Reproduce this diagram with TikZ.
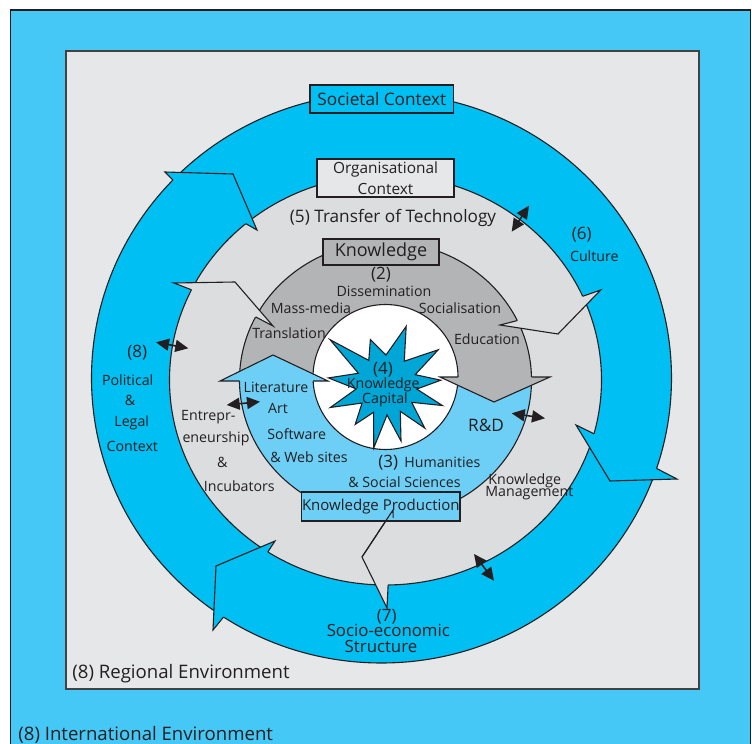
\documentclass[tikz,border=0pt]{standalone}
\usepackage{fontspec}
\setmainfont{Open Sans}
\usetikzlibrary{arrows.meta,calc}
\definecolor{intblue}{HTML}{45C8F5}
\definecolor{ringblue}{HTML}{00BFF3}
\definecolor{regrey}{HTML}{E6E7E8}
\definecolor{orggrey}{HTML}{DCDDDF}
\definecolor{midgrey}{HTML}{B3B4B6}
\definecolor{lblue}{HTML}{6DCFF6}
\definecolor{starblue}{HTML}{00A6D6}
\definecolor{ink}{HTML}{231F20}
\tikzset{
  ringline/.style={draw=ink, line width=0.55pt, line join=miter},
  boxnode/.style={draw=ink, line width=0.7pt, inner sep=0pt, text=ink},
  txt/.style={inner sep=0pt, text=ink},
  bigfont/.style={font=\fontsize{8.6}{10}\selectfont},
  numfont/.style={font=\fontsize{8.5}{10}\selectfont},
  smallfont/.style={font=\fontsize{7.1}{8.5}\selectfont},
  envfont/.style={font=\fontsize{9.3}{11}\selectfont},
  dblarrow/.style={{Triangle[length=6.5pt,width=6pt]}-{Triangle[length=6.5pt,width=6pt]}, line width=0.8pt, draw=ink, fill=ink}
}
\begin{document}
\begin{tikzpicture}[x=0.5pt,y=-0.5pt]
\useasboundingbox (0,0) rectangle (752,744);
\clip (0,0) rectangle (752,744);
% environment boxes
\filldraw[fill=intblue, draw=ink, line width=0.8pt] (10.5,10) rectangle (750.5,770);
\filldraw[fill=regrey, draw=ink!85, line width=0.8pt] (66,51) rectangle (699,689);
% centres
\coordinate (co) at (381.5,378);
\coordinate (ci) at (385.5,380);
\coordinate (cw) at (385.5,377);
% rings
\filldraw[fill=ringblue, ringline] (co) ellipse [x radius=290, y radius=285];
\filldraw[fill=orggrey, ringline] (ci) ellipse [x radius=216, y radius=205];
\fill[lblue] (ci) ellipse [x radius=146, y radius=138];
\begin{scope}
  \clip (0,0) rectangle (752,379);
  \fill[midgrey] (ci) ellipse [x radius=146, y radius=138];
\end{scope}
\draw[ringline] (ci) ellipse [x radius=146, y radius=138];
\filldraw[fill=white, ringline] (cw) circle [radius=72.5];
% knowledge arrowheads
\filldraw[fill=lblue, ringline] (239.6,381) -- (220,381) -- (273,355) -- (328,381) -- (313.1,381);
\filldraw[fill=midgrey, ringline] (531.5,377) -- (550,377) -- (494,402) -- (440,377) -- (458,377);
% star
\begin{scope}[shift={(386,385)}]
\filldraw[fill=starblue, ringline]
  (-141:72) -- (-125:30) -- (-109:48) -- (-90:30) -- (-71:62) -- (-52.5:30)
  -- (-34:63) -- (-19.5:31) -- (-5:55) -- (7.5:31) -- (20:60) -- (34:31)
  -- (48:58) -- (61.5:30) -- (75:58) -- (88:30) -- (101:64) -- (114.5:30)
  -- (128:50) -- (143:30) -- (158:60) -- (172.5:30) -- (187:58) -- (203:30) -- cycle;
\end{scope}
% organisational ring arrowheads
\filldraw[fill=orggrey, ringline] ($(ci)+(-153.9:216 and 205)$) -- (174,283) -- (235,282) -- (273,326) -- ($(ci)+(-152.8:146 and 138)$);
\filldraw[fill=orggrey, ringline] ($(ci)+(-24.1:216 and 205)$) -- (600.7,290) -- (558,334) -- (500,325) -- ($(ci)+(-25.5:146 and 138)$);
\filldraw[fill=orggrey, ringline] ($(ci)+(89.3:216 and 205)$) -- (387,608) -- (362,557) -- (393,510) -- ($(ci)+(87:146 and 138)$);
% societal ring arrowheads
\filldraw[fill=ringblue, ringline] ($(co)+(-136:290 and 285)$) -- (165,172) -- (233,174) -- (257,230) -- ($(ci)+(-130.3:216 and 205)$);
\filldraw[fill=ringblue, ringline] ($(co)+(18.5:290 and 285)$) -- (677,479) -- (610,481) -- (576,425) -- ($(ci)+(15.2:216 and 205)$);
\filldraw[fill=ringblue, ringline] ($(co)+(123:290 and 285)$) -- (213,630) -- (216,566) -- (275,541) -- ($(ci)+(123:216 and 205)$);
% boxes
\node[name=soc, boxnode, fill=ringblue, minimum width=71.8pt, minimum height=14pt, bigfont] at (381.8,99) {Societal Context};
\node[name=org, boxnode, fill=regrey, minimum width=68.5pt, minimum height=19pt, align=center, font=\fontsize{7.7}{10.3}\selectfont] at (385.5,178) {Organisational\\Context};
\node[name=know, boxnode, fill=midgrey, minimum width=58pt, minimum height=13pt, font=\fontsize{9}{10}\selectfont] at (381,252) {Knowledge};
\node[name=kp, boxnode, fill=lblue, minimum width=79.2pt, minimum height=14.5pt, font=\fontsize{7.5}{9}\selectfont] at (380.8,506.5) {Knowledge Production};
\draw[ringline] (362,557) -- (393,510) -- ($(ci)+(87:146 and 138)$);
% double arrows
\coordinate (tta) at (511.7,231.7); \coordinate (ttb) at (529,205.7);
\coordinate (pla) at (156,342.3);   \coordinate (plb) at (188.3,348.3);
\coordinate (lia) at (226.7,405);   \coordinate (lib) at (260,401.7);
\coordinate (rda) at (511.7,413.3); \coordinate (rdb) at (545,418.3);
\coordinate (kma) at (474,554);     \coordinate (kmb) at (494,580.7);
\draw[dblarrow] (tta) -- (ttb);
\draw[dblarrow] (pla) -- (plb);
\draw[dblarrow] (lia) -- (lib);
\draw[dblarrow] (rda) -- (rdb);
\draw[dblarrow] (kma) -- (kmb);
% texts
\node[name=tt, txt, bigfont] at (393,218) {(5) Transfer of Technology};
\node[name=n2, txt, numfont] at (381,275) {(2)};
\node[name=diss, txt, smallfont] at (384,291) {Dissemination};
\node[name=mm, txt, smallfont] at (311,308) {Mass-media};
\node[name=socl, txt, smallfont] at (460,308) {Socialisation};
\node[name=tr, txt, smallfont] at (289,333) {Translation};
\node[name=ed, txt, smallfont] at (487,339) {Education};
\node[name=lit, txt, smallfont] at (276,387) {Literature};
\node[name=art, txt, smallfont] at (278,408) {Art};
\node[name=sw, txt, smallfont] at (296.7,434) {Software};
\node[name=web, txt, smallfont] at (309,456.7) {\& Web sites};
\node[name=n3, txt, numfont, anchor=west] at (378,462.7) {(3)};
\node[name=hum, txt, smallfont, anchor=west] at (404,462.7) {Humanities};
\node[name=ss, txt, smallfont] at (404.5,481.7) {\& Social Sciences};
\node[name=rd, txt, font=\fontsize{8.6}{10}\selectfont] at (486,425.7) {R\&D};
\node[name=kma1, txt, smallfont, anchor=west] at (488,481) {Knowledge};
\node[name=kma2, txt, smallfont, anchor=west] at (485,493.5) {Management};
\node[name=n4, txt, numfont] at (383,370) {(4)};
\node[name=kc1, txt, smallfont] at (383.3,385) {Knowledge};
\node[name=kc2, txt, smallfont] at (385,400) {Capital};
\node[name=n6, txt, numfont] at (581.7,235) {(6)};
\node[name=cul, txt, smallfont] at (594.3,256) {Culture};
\node[name=n8, txt, numfont] at (137.3,352.3) {(8)};
\node[name=pol, txt, smallfont] at (127.7,380) {Political};
\node[name=amp1, txt, smallfont] at (130,400) {\&};
\node[name=leg, txt, smallfont] at (131.7,423.3) {Legal};
\node[name=ctx, txt, smallfont] at (132.3,446) {Context};
\node[name=ent, txt, smallfont] at (208.3,416.7) {Entrepr-};
\node[name=ene, txt, smallfont] at (216,439.3) {eneurship};
\node[name=amp2, txt, smallfont] at (222.3,462.7) {\&};
\node[name=inc, txt, smallfont] at (239.3,486) {Incubators};
\node[name=n7, txt, numfont] at (386.7,616.7) {(7)};
\node[name=sec, txt, font=\fontsize{8.4}{10}\selectfont] at (388.3,630.7) {Socio-economic};
\node[name=str, txt, font=\fontsize{8.4}{10}\selectfont] at (381,646.7) {Structure};
\node[name=reg, txt, envfont, anchor=west] at (72,674) {(8) Regional Environment};
\node[name=int, txt, envfont, anchor=west] at (18,735) {(8) International Environment};
\end{tikzpicture}
\end{document}
